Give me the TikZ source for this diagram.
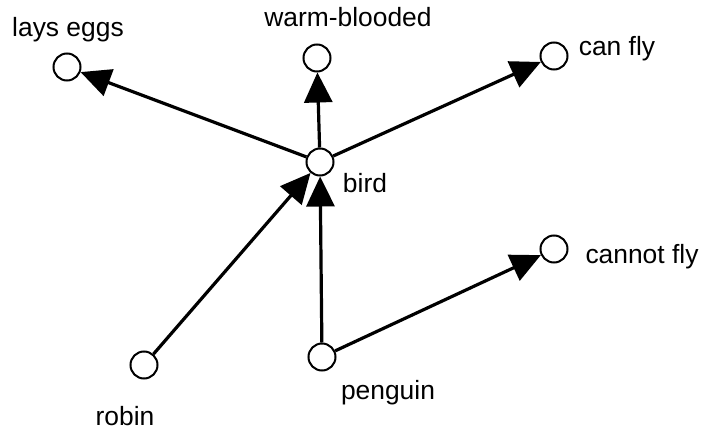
\documentclass[tikz,border=0pt]{standalone}
\usepackage{fontspec}
\setmainfont{Liberation Sans}
\usetikzlibrary{arrows.meta}

\begin{document}
\begin{tikzpicture}[x=0.5pt,y=-0.5pt,
  concept/.style={circle,draw,line width=1pt,minimum size=13.5pt,inner sep=0pt},
  tag/.style={anchor=base,inner sep=0pt,font=\fontsize{13.2}{16}\selectfont},
  isa/.style={line width=1.6pt,-{Triangle[length=15pt,width=14pt]}}]
\useasboundingbox (0,0) rectangle (703,428);
% concepts
\node[concept] (layseggs) at (67,67) {};
\node[concept] (warm)     at (317,58) {};
\node[concept] (canfly)   at (554,56) {};
\node[concept] (bird)     at (320,162) {};
\node[concept] (cannot)   at (554,249) {};
\node[concept] (robin)    at (144,365) {};
\node[concept] (penguin)  at (322,357) {};
% labels
\node[tag] (layseggs-txt) at (68,36)  {lays eggs};
\node[tag] (warm-txt)     at (348,26) {warm-blooded};
\node[tag] (canfly-txt)   at (617,55) {can fly};
\node[tag] (bird-txt)     at (365,192) {bird};
\node[tag] (cannot-txt)   at (642,263) {cannot fly};
\node[tag] (robin-txt)    at (125,425) {robin};
\node[tag] (penguin-txt)  at (388,399) {penguin};
% links
\draw[isa] (bird) -- (layseggs);
\draw[isa] (bird) -- (warm);
\draw[isa] (bird) -- (canfly);
\draw[isa] (robin) -- (bird);
\draw[isa] (penguin) -- (bird);
\draw[isa] (penguin) -- (cannot);
\end{tikzpicture}
\end{document}
